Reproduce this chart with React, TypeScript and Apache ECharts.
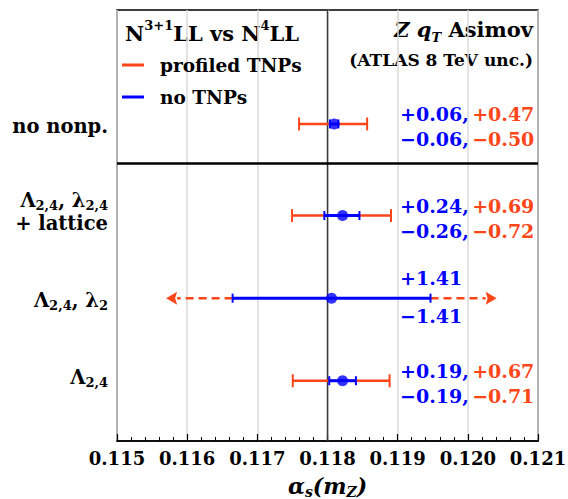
import React, { useEffect, useRef } from 'react';
import * as echarts from 'echarts';

// ---- data ----
const xMin = 0.115;
const xMax = 0.121;
const xStep = 0.001;
const refValue = 0.118; // vertical reference line
const unit = 1e-3; // uncertainties quoted in units of 1e-3

const rowPos = [3.84, 2.73, 1.73, 0.73];
const separatorPos = 3.36;
const yMax = 5.22;

const centers = [0.118095, 0.118215, 0.118058, 0.118215];
const blueUp = [0.06, 0.24, 1.41, 0.19];
const blueDown = [0.06, 0.26, 1.41, 0.19];
const orangeUp: (number | null)[] = [0.47, 0.69, null, 0.67];
const orangeDown: (number | null)[] = [0.5, 0.72, null, 0.71];
// row 3: profiled TNPs unbounded, drawn as arrows
const arrowRow = 2;
const arrowLow = 0.1157;
const arrowHigh = 0.12041;

const ORANGE = '#ff4619';
const BLUE = '#0000ff';
const SERIF = 'DejaVu Serif';

const rowLabelTexts = [
  '{r|no nonp.}',
  '{r|Λ}{s|2,4}{r|, λ}{s|2,4}\n{r|+ lattice}',
  '{r|Λ}{s|2,4}{r|, λ}{s|2}',
  '{r|Λ}{s|2,4}',
];
const rowLabelDy = [3, -4, 2, -3];

const baseRich = {
  r: { fontFamily: SERIF, fontWeight: 'bold', fontSize: 19.5, fill: '#000', lineHeight: 23 },
  s: { fontFamily: SERIF, fontWeight: 'bold', fontSize: 13, fill: '#000', lineHeight: 12, verticalAlign: 'bottom' },
  p: { fontFamily: SERIF, fontWeight: 'bold', fontSize: 13, fill: '#000', lineHeight: 12, verticalAlign: 'top' },
  t: { fontFamily: SERIF, fontWeight: 'bold', fontSize: 21, fill: '#000', lineHeight: 28 },
  i: { fontFamily: SERIF, fontWeight: 'bold', fontStyle: 'italic', fontSize: 21, fill: '#000', lineHeight: 28 },
  is: { fontFamily: SERIF, fontWeight: 'bold', fontStyle: 'italic', fontSize: 13, fill: '#000', lineHeight: 12, verticalAlign: 'bottom' },
  b: { fontFamily: SERIF, fontWeight: 'bold', fontSize: 19, fill: BLUE },
  o: { fontFamily: SERIF, fontWeight: 'bold', fontSize: 19, fill: ORANGE },
};

function errRender(color: string, lw: number, capH: number) {
  return (params: any, api: any) => {
    const y = api.value(1);
    const p1 = api.coord([api.value(2), y]);
    const p2 = api.coord([api.value(3), y]);
    const st = { stroke: color, lineWidth: lw };
    const cs = { stroke: color, lineWidth: 2 };
    return {
      type: 'group',
      children: [
        { type: 'line', shape: { x1: p1[0], y1: p1[1], x2: p2[0], y2: p2[1] }, style: st },
        { type: 'line', shape: { x1: p1[0], y1: p1[1] - capH / 2, x2: p1[0], y2: p1[1] + capH / 2 }, style: cs },
        { type: 'line', shape: { x1: p2[0], y1: p2[1] - capH / 2, x2: p2[0], y2: p2[1] + capH / 2 }, style: cs },
      ],
    };
  };
}

export default function App() {
  const ref = useRef<HTMLDivElement>(null);
  useEffect(() => {
    if (!ref.current) return;
    const chart = echarts.init(ref.current, null, { renderer: 'svg' });

    const orangeData: number[][] = [];
    const blueData: number[][] = [];
    const dotData: number[][] = [];
    centers.forEach((c, i) => {
      const u = orangeUp[i];
      const d = orangeDown[i];
      if (u != null && d != null) orangeData.push([c, rowPos[i], c - d * unit, c + u * unit]);
      blueData.push([c, rowPos[i], c - blueDown[i] * unit, c + blueUp[i] * unit]);
      dotData.push([c, rowPos[i]]);
    });
    const ac = centers[arrowRow];
    const arrowData = [
      [ac, rowPos[arrowRow], ac - blueDown[arrowRow] * unit, arrowLow],
      [ac, rowPos[arrowRow], ac + blueUp[arrowRow] * unit, arrowHigh],
    ];
    const textData = rowPos.map((p, i) => [xMax, p, i]);

    chart.setOption({
      animation: false,
      grid: {
        left: 117, top: 10, width: 421, height: 431,
        containLabel: false, outerBoundsMode: 'none',
        show: true, borderColor: '#000', borderWidth: 1.5, backgroundColor: 'transparent',
      },
      legend: {
        left: 122,
        top: 54,
        padding: 0,
        orient: 'vertical',
        icon: 'rect',
        itemWidth: 22,
        itemHeight: 3,
        itemGap: 10,
        selectedMode: false,
        textStyle: { fontFamily: SERIF, fontWeight: 'bold', fontSize: 18.5, color: '#000', lineHeight: 22, padding: [0, 0, 0, 11] },
        data: [
          { name: 'profiled TNPs', itemStyle: { color: ORANGE } },
          { name: 'no TNPs', itemStyle: { color: BLUE } },
        ],
      },
      xAxis: {
        type: 'value',
        min: xMin,
        max: xMax,
        interval: xStep,
        axisLine: { show: true, lineStyle: { color: '#000', width: 1.5 } },
        axisTick: { show: true, inside: true, length: 7, lineStyle: { color: '#000', width: 1.2 } },
        minorTick: { show: true, splitNumber: 5, length: 4, lineStyle: { color: '#000', width: 1 } },
        splitLine: { show: true, lineStyle: { color: '#dadada', width: 1.5 } },
        axisLabel: {
          margin: 8,
          fontFamily: SERIF,
          fontWeight: 'bold',
          fontSize: 18,
          color: '#000',
          formatter: (v: number) => v.toFixed(3),
        },
        name: '{a|α}{s|s}{a|(m}{s|Z}{a|)}',
        nameLocation: 'middle',
        nameGap: 32,
        nameTextStyle: {
          rich: {
            a: { fontFamily: SERIF, fontWeight: 'bold', fontStyle: 'italic', fontSize: 22, color: '#000', lineHeight: 26 },
            s: { fontFamily: SERIF, fontWeight: 'bold', fontStyle: 'italic', fontSize: 14, color: '#000', lineHeight: 13, verticalAlign: 'bottom' },
          },
        },
      },
      yAxis: { type: 'value', min: 0, max: yMax, show: false, splitLine: { show: false } },
      graphic: [
        {
          type: 'text',
          left: 125,
          top: 19,
          style: { text: '{t|N}{p|3+1}{t|LL vs N}{p|4}{t|LL}', rich: baseRich },
        },
        {
          type: 'text',
          right: 35,
          top: 19,
          style: { text: '{i|Z q}{is|T}{t| Asimov}', rich: baseRich, align: 'right' },
        },
        {
          type: 'text',
          right: 35,
          top: 51,
          style: { text: '(ATLAS 8 TeV unc.)', fontFamily: SERIF, fontWeight: 'bold', fontSize: 17, fill: '#000' },
        },
      ],
      series: [
        {
          type: 'custom',
          name: 'ref',
          z: 1,
          silent: true,
          data: [[refValue, separatorPos]],
          renderItem: (params: any, api: any) => {
            const top = api.coord([api.value(0), yMax]);
            const bot = api.coord([api.value(0), 0]);
            const l = api.coord([xMin, api.value(1)]);
            const r = api.coord([xMax, api.value(1)]);
            return {
              type: 'group',
              children: [
                { type: 'line', shape: { x1: top[0], y1: top[1], x2: bot[0], y2: bot[1] }, style: { stroke: '#3c3c3c', lineWidth: 1.5 } },
                { type: 'line', shape: { x1: l[0], y1: l[1], x2: r[0], y2: r[1] }, style: { stroke: '#000', lineWidth: 2.5 } },
              ],
            };
          },
        },
        {
          type: 'custom',
          name: 'profiled TNPs',
          z: 3,
          itemStyle: { color: ORANGE },
          data: orangeData,
          renderItem: errRender(ORANGE, 2.5, 13),
        },
        {
          type: 'custom',
          name: 'profiled TNPs',
          z: 3,
          itemStyle: { color: ORANGE },
          data: arrowData,
          renderItem: (params: any, api: any) => {
            const y = api.value(1);
            const a = api.coord([api.value(2), y]);
            const b = api.coord([api.value(3), y]);
            const dir = b[0] > a[0] ? 1 : -1;
            const base = b[0] - dir * 11;
            return {
              type: 'group',
              children: [
                { type: 'line', shape: { x1: a[0], y1: a[1], x2: base, y2: b[1] }, style: { stroke: ORANGE, lineWidth: 2.5, lineDash: [8, 5] } },
                { type: 'polygon', shape: { points: [[b[0], b[1]], [base, b[1] - 6.5], [base + dir * 2, b[1]], [base, b[1] + 6.5]] }, style: { fill: ORANGE } },
              ],
            };
          },
        },
        {
          type: 'custom',
          name: 'no TNPs',
          z: 4,
          itemStyle: { color: BLUE },
          data: blueData,
          renderItem: errRender(BLUE, 3, 9),
        },
        {
          type: 'scatter',
          name: 'no TNPs',
          z: 5,
          symbol: 'circle',
          symbolSize: 11,
          itemStyle: { color: BLUE },
          data: dotData,
        },
        {
          type: 'custom',
          name: 'texts',
          z: 6,
          silent: true,
          data: textData,
          renderItem: (params: any, api: any) => {
            const i = api.value(2);
            const y = api.value(1);
            const right = api.coord([xMax, y]);
            const left = api.coord([xMin, y]);
            const ou = orangeUp[i];
            const od = orangeDown[i];
            const topTxt = ou != null ? `{b|+${blueUp[i].toFixed(2)},} {o|+${ou.toFixed(2)}}` : `{b|+${blueUp[i].toFixed(2)}}`;
            const botTxt = od != null ? `{b|−${blueDown[i].toFixed(2)},} {o|−${od.toFixed(2)}}` : `{b|−${blueDown[i].toFixed(2)}}`;
            const dTop = ou != null ? -10 : -20;
            const dBot = ou != null ? 15 : 18;
            const x0 = right[0] - 138;
            return {
              type: 'group',
              children: [
                { type: 'text', x: x0, y: right[1] + dTop, style: { text: topTxt, rich: baseRich, align: 'left', verticalAlign: 'middle' } },
                { type: 'text', x: x0, y: right[1] + dBot, style: { text: botTxt, rich: baseRich, align: 'left', verticalAlign: 'middle' } },
                { type: 'text', x: left[0] - 9, y: left[1] + rowLabelDy[i], style: { text: rowLabelTexts[i], rich: baseRich, align: 'right', verticalAlign: 'middle' } },
              ],
            };
          },
        },
      ],
    });
    return () => chart.dispose();
  }, []);
  return <div ref={ref} style={{ position: 'absolute', left: 0, top: 0, width: 568, height: 499 }} />;
}
